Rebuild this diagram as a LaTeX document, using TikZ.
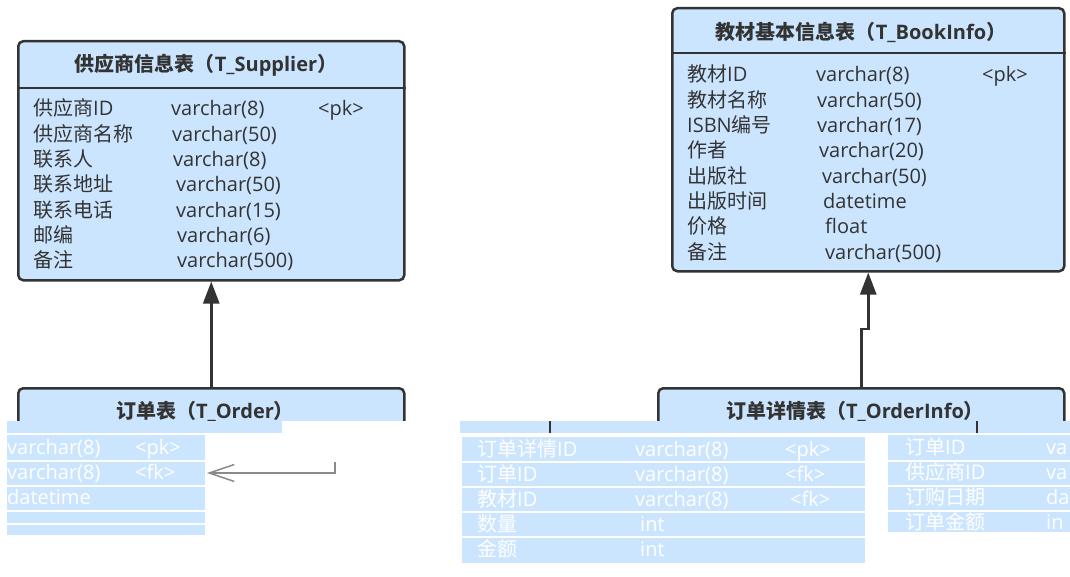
\documentclass[tikz,border=0pt]{standalone}
\usepackage{fontspec}
\setmainfont{Open Sans}
\newfontfamily\cjk{Noto Sans CJK SC}
\usetikzlibrary{arrows.meta}
\definecolor{tblfill}{HTML}{CCE5FF}
\definecolor{tbldraw}{HTML}{333333}
\definecolor{txt}{HTML}{333333}
\definecolor{ghostline}{HTML}{8A8A8A}
\newcommand\C[1]{{\cjk #1}}
\tikzset{
  tbl/.style={draw=tbldraw, line width=2.5pt, fill=tblfill, rounded corners=5pt, anchor=north west, inner sep=0pt},
  hdr/.style={font=\fontsize{20}{24}\selectfont\bfseries, text=txt, inner sep=0pt},
  fld/.style={font=\fontsize{20}{24}\selectfont, text=txt, anchor=base west, inner sep=0pt},
  ghost/.style={font=\fontsize{20}{24}\selectfont, text=white, anchor=base west, inner sep=0pt},
  frag/.style={fill=tblfill, draw=none, anchor=north west, inner sep=0pt},
  sepline/.style={draw=tbldraw, line width=2.5pt},
  conn/.style={draw=tbldraw, line width=2.5pt, -{Triangle[length=22pt,width=16pt]}},
  stripe/.style={draw=white, line width=2pt},
}
\begin{document}
\begin{tikzpicture}[x=1pt,y=-1pt]
\useasboundingbox (0,0) rectangle (1070,577);
\fill[white] (0,0) rectangle (1070,577);

% ---- T_Supplier
\node[tbl, minimum width=386pt, minimum height=239pt] (sup) at (17,40) {};
\draw[sepline] ([yshift=-48pt]sup.north west) -- ([yshift=-48pt]sup.north east);
\node[hdr] (suph) at (206,65) {\C{供应商信息表（}T\_Supplier\C{）}};
\foreach \n/\t/\x [count=\i] in {{\C{供应商}ID}/varchar(8)/171, {\C{供应商名称}}/varchar(50)/172,
  {\C{联系人}}/varchar(8)/173, {\C{联系地址}}/varchar(50)/176, {\C{联系电话}}/varchar(15)/176,
  {\C{邮编}}/varchar(6)/177, {\C{备注}}/varchar(500)/177}{
  \node[fld] (sn\i) at (33,{116+(\i-1)*25.3}) {\n};
  \node[fld] (st\i) at (\x,{116+(\i-1)*25.3}) {\t};
}
\node[fld] (spk) at (318,116) {<pk>};

% ---- T_BookInfo
\node[tbl, minimum width=392pt, minimum height=263pt] (book) at (671,7) {};
\draw[sepline] ([yshift=-46pt]book.north west) -- ([yshift=-46pt]book.north east);
\node[hdr] (bookh) at (861,32) {\C{教材基本信息表（}T\_BookInfo\C{）}};
\foreach \n/\t/\x [count=\i] in {{\C{教材}ID}/varchar(8)/816, {\C{教材名称}}/varchar(50)/817,
  {ISBN\C{编号}}/varchar(17)/817, {\C{作者}}/varchar(20)/819, {\C{出版社}}/varchar(50)/822,
  {\C{出版时间}}/datetime/823, {\C{价格}}/float/825, {\C{备注}}/varchar(500)/825}{
  \node[fld] (bn\i) at (687,{82+(\i-1)*25.3}) {\n};
  \node[fld] (bt\i) at (\x,{82+(\i-1)*25.3}) {\t};
}
\node[fld] (bpk) at (982,82) {<pk>};

% ---- bottom tables (upper part only visible)
\begin{scope}
\clip (0,0) rectangle (1070,420);
\node[tbl, minimum width=386pt, minimum height=180pt] (ord) at (17,387) {};
\node[tbl, minimum width=406pt, minimum height=180pt] (oi) at (657,387) {};
\node[hdr] (ordh) at (205,411) {\C{订单表（}T\_Order\C{）}};
\node[hdr] (oih) at (855,411) {\C{订单详情表（}T\_OrderInfo\C{）}};
\end{scope}

% ---- displaced fragments
\fill[tblfill] (7,421) rectangle (282,433);
\fill[tblfill] (460,421) rectangle (1070,433);
\draw[tbldraw, line width=2pt] (550,421) -- (550,433);
\draw[tbldraw, line width=2pt] (977,421) -- (977,433);

\node[frag, minimum width=198pt, minimum height=100pt] (fl) at (7,435) {};
\node[frag, minimum width=403pt, minimum height=126pt] (fm) at (462,437) {};
\node[frag, minimum width=182pt, minimum height=97pt] (fr) at (888,435) {};

\begin{scope}
\clip (7,435) rectangle (205,535);
\node[ghost] (g1) at (7,454) {varchar(8)};
\node[ghost] (g2) at (135,454) {<pk>};
\node[ghost] (g3) at (7,479) {varchar(8)};
\node[ghost] (g4) at (135,479) {<fk>};
\node[ghost] (g5) at (7,504) {datetime};
\foreach \y in {461,486,511,524}{\draw[stripe] (7,\y) -- (205,\y);}
\end{scope}

\begin{scope}
\clip (462,437) rectangle (865,563);
\node[ghost] (m1a) at (477,456) {\C{订单详情}ID};
\node[ghost] (m1b) at (635,456) {varchar(8)};
\node[ghost] (m1c) at (785,456) {<pk>};
\node[ghost] (m2a) at (477,481) {\C{订单}ID};
\node[ghost] (m2b) at (635,481) {varchar(8)};
\node[ghost] (m2c) at (785,481) {<fk>};
\node[ghost] (m3a) at (477,506) {\C{教材}ID};
\node[ghost] (m3b) at (635,506) {varchar(8)};
\node[ghost] (m3c) at (790,506) {<fk>};
\node[ghost] (m4a) at (477,531) {\C{数量}};
\node[ghost] (m4b) at (640,531) {int};
\node[ghost] (m5a) at (477,556) {\C{金额}};
\node[ghost] (m5b) at (640,556) {int};
\foreach \y in {462,487,512,537}{\draw[stripe] (462,\y) -- (865,\y);}
\end{scope}

\begin{scope}
\clip (888,435) rectangle (1070,532);
\node[ghost] (r1a) at (905,454) {\C{订单}ID};
\node[ghost] (r1b) at (1046,454) {va};
\node[ghost] (r2a) at (905,479) {\C{供应商}ID};
\node[ghost] (r2b) at (1046,479) {va};
\node[ghost] (r3a) at (905,504) {\C{订购日期}};
\node[ghost] (r3b) at (1046,504) {da};
\node[ghost] (r4a) at (905,529) {\C{订单金额}};
\node[ghost] (r4b) at (1046,529) {in};
\foreach \y in {461,486,511}{\draw[stripe] (888,\y) -- (1070,\y);}
\end{scope}

% ---- displaced open arrow
\coordinate (ae) at (335,462);
\coordinate (at) at (207,473);
\draw[ghostline, line width=1.5pt, -{Straight Barb[length=25pt,width=17pt]}] (ae) |- (at);

% ---- connectors
\draw[conn] (ord.north) -- (sup.south);
\draw[conn] (oi.north) -- ++(0,-58) -| (book.south);
\end{tikzpicture}
\end{document}
